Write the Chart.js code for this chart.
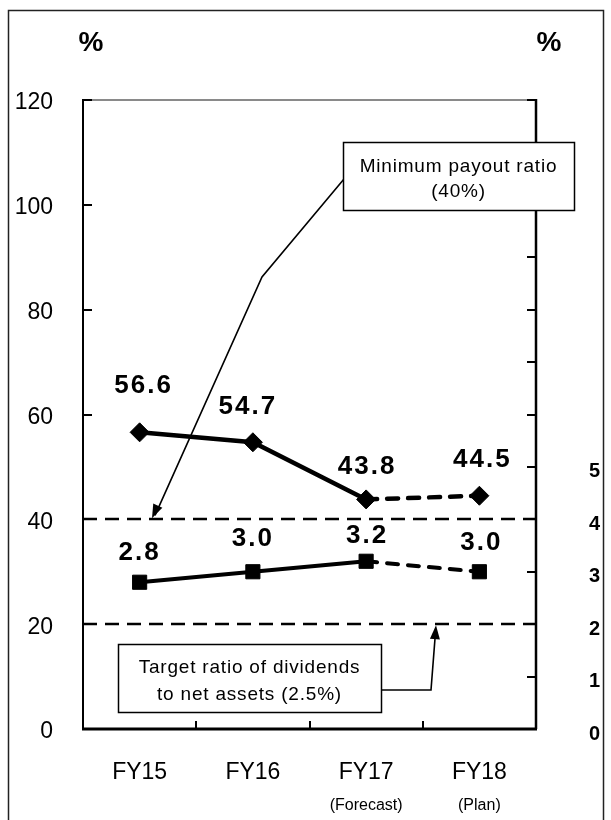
<!DOCTYPE html>
<html>
<head>
<meta charset="utf-8">
<script src="https://cdn.jsdelivr.net/npm/chart.js@4"></script>
<style>
  html, body { margin: 0; padding: 0; background: #fff; }
  #wrap { position: relative; width: 611px; height: 820px; }
  canvas { display: block; }
</style>
</head>
<body>
<div id="wrap"><canvas id="c" width="611" height="820"></canvas></div>
<script>
// Fiscal years and the note printed under each one
const fiscalYears = ['FY15', 'FY16', 'FY17', 'FY18'];
const yearNotes = ['', '', '(Forecast)', '(Plan)'];

// Payout ratio (%), left axis
const payoutRatio = [56.6, 54.7, 43.8, 44.5];
// Ratio of dividends to net assets (%), right axis
const dividendRatio = [2.8, 3.0, 3.2, 3.0];

// Left axis 0-120 by 20, right axis 0-12 by 1 (only 0-5 labelled)
const leftAxisRange = [0, 120];
const leftAxisStep = 20;
const rightAxisRange = [0, 12];
const rightAxisStep = 1;
const rightLabelTop = 5;

// Dashed guide lines on the left axis
const guideLevels = [40, 20];

// Index of the first estimated year: segments starting here are dashed
const firstEstimate = 2;

// Value-label placement (pixels above / beside each point)
const payoutLift = [46, 35, 33, 36];
const payoutNudge = [3, -6, 0, 2];
const dividendLift = [29, 33, 25, 29];
const dividendNudge = [-1, -1, 0, 1];

const FONT = '"Liberation Sans", Arial, sans-serif';

const frameAndAxes = {
  id: 'frameAndAxes',
  beforeDraw(chart) {
    const ctx = chart.ctx;
    ctx.save();
    ctx.fillStyle = '#fff';
    ctx.fillRect(0, 0, chart.width, chart.height);
    ctx.strokeStyle = '#222';
    ctx.lineWidth = 1.5;
    ctx.strokeRect(8.5, 10.5, 595, 840);
    ctx.fillStyle = '#000';
    ctx.font = 'bold 28px ' + FONT;
    ctx.textAlign = 'center';
    ctx.textBaseline = 'middle';
    ctx.fillText('%', 91, 43);
    ctx.fillText('%', 549, 43);
    ctx.restore();
  },
  beforeDatasetsDraw(chart) {
    const ctx = chart.ctx;
    const a = chart.chartArea;
    const y = chart.scales.y, y2 = chart.scales.y2, x = chart.scales.x;
    ctx.save();
    // guide lines
    ctx.strokeStyle = '#000';
    ctx.lineWidth = 2.5;
    ctx.setLineDash([14, 8]);
    guideLevels.forEach(v => {
      const py = Math.round(y.getPixelForValue(v));
      ctx.beginPath();
      ctx.moveTo(a.left, py);
      ctx.lineTo(a.right, py);
      ctx.stroke();
    });
    ctx.setLineDash([]);
    // top edge
    ctx.strokeStyle = '#8a8a8a';
    ctx.lineWidth = 2;
    ctx.beginPath();
    ctx.moveTo(a.left, a.top);
    ctx.lineTo(a.right, a.top);
    ctx.stroke();
    // left axis
    ctx.strokeStyle = '#000';
    ctx.lineWidth = 2;
    ctx.beginPath();
    ctx.moveTo(a.left, a.top - 1);
    ctx.lineTo(a.left, a.bottom);
    ctx.stroke();
    for (let v = leftAxisRange[0]; v <= leftAxisRange[1]; v += leftAxisStep) {
      const py = Math.round(y.getPixelForValue(v));
      ctx.beginPath();
      ctx.moveTo(a.left, py);
      ctx.lineTo(a.left + 9, py);
      ctx.stroke();
    }
    // right axis
    ctx.lineWidth = 2.5;
    ctx.beginPath();
    ctx.moveTo(a.right, a.top - 1);
    ctx.lineTo(a.right, a.bottom);
    ctx.stroke();
    ctx.lineWidth = 2;
    for (let v = rightAxisRange[0]; v <= rightAxisRange[1]; v += rightAxisStep) {
      const py = Math.round(y2.getPixelForValue(v));
      ctx.beginPath();
      ctx.moveTo(a.right, py);
      ctx.lineTo(a.right - 9, py);
      ctx.stroke();
    }
    // bottom axis with ticks between categories
    ctx.lineWidth = 3;
    ctx.beginPath();
    ctx.moveTo(a.left - 1, a.bottom);
    ctx.lineTo(a.right + 1, a.bottom);
    ctx.stroke();
    ctx.lineWidth = 2;
    for (let i = 1; i < fiscalYears.length; i++) {
      const px = Math.round((x.getPixelForValue(i - 1) + x.getPixelForValue(i)) / 2);
      ctx.beginPath();
      ctx.moveTo(px, a.bottom);
      ctx.lineTo(px, a.bottom - 8);
      ctx.stroke();
    }
    ctx.restore();
  },
  afterDatasetsDraw(chart) {
    const ctx = chart.ctx;
    ctx.save();
    ctx.fillStyle = '#000';
    ctx.font = 'bold 26px ' + FONT;
    ctx.textAlign = 'center';
    ctx.textBaseline = 'middle';
    try { ctx.letterSpacing = '2px'; } catch (e) {}
    const sets = [
      { idx: 0, values: payoutRatio, lift: payoutLift, nudge: payoutNudge },
      { idx: 1, values: dividendRatio, lift: dividendLift, nudge: dividendNudge }
    ];
    sets.forEach(s => {
      const meta = chart.getDatasetMeta(s.idx);
      meta.data.forEach((pt, i) => {
        ctx.fillText(s.values[i].toFixed(1), pt.x + s.nudge[i] + 1, pt.y - s.lift[i]);
      });
    });
    ctx.restore();
  },
  afterDraw(chart) {
    const ctx = chart.ctx;
    const y = chart.scales.y, x = chart.scales.x;
    ctx.save();
    // notes under the year labels
    ctx.fillStyle = '#000';
    ctx.font = '16px ' + FONT;
    ctx.textAlign = 'center';
    ctx.textBaseline = 'middle';
    yearNotes.forEach((t, i) => {
      if (t) ctx.fillText(t, x.getPixelForValue(i), 806);
    });

    const drawArrowHead = (tx, ty, fx, fy) => {
      const ang = Math.atan2(ty - fy, tx - fx);
      const len = 14, half = 5;
      ctx.beginPath();
      ctx.moveTo(tx, ty);
      ctx.lineTo(tx - len * Math.cos(ang) + half * Math.sin(ang), ty - len * Math.sin(ang) - half * Math.cos(ang));
      ctx.lineTo(tx - len * Math.cos(ang) - half * Math.sin(ang), ty - len * Math.sin(ang) + half * Math.cos(ang));
      ctx.closePath();
      ctx.fill();
    };
    const drawBox = (l, t, w, h, lines, lineYs) => {
      ctx.fillStyle = '#fff';
      ctx.fillRect(l, t, w, h);
      ctx.strokeStyle = '#000';
      ctx.lineWidth = 1.5;
      ctx.strokeRect(l + 0.5, t + 0.5, w, h);
      ctx.fillStyle = '#000';
      ctx.font = '19px ' + FONT;
      try { ctx.letterSpacing = '0.8px'; } catch (e) {}
      ctx.textAlign = 'center';
      ctx.textBaseline = 'middle';
      lines.forEach((s, k) => ctx.fillText(s, l + w / 2, lineYs[k]));
      try { ctx.letterSpacing = '0px'; } catch (e) {}
    };

    // payout-ratio callout
    const floorY = y.getPixelForValue(guideLevels[0]);
    ctx.strokeStyle = '#000';
    ctx.fillStyle = '#000';
    ctx.lineWidth = 1.6;
    ctx.beginPath();
    ctx.moveTo(344, 179);
    ctx.lineTo(262, 277);
    ctx.lineTo(155, floorY - 4);
    ctx.stroke();
    drawArrowHead(152, floorY - 1, 262, 277);
    drawBox(343, 142, 231, 68, ['Minimum payout ratio', '(40%)'], [167, 192]);

    // dividend-ratio callout
    const lowY = y.getPixelForValue(guideLevels[1]);
    ctx.strokeStyle = '#000';
    ctx.fillStyle = '#000';
    ctx.lineWidth = 1.6;
    ctx.beginPath();
    ctx.moveTo(381, 690);
    ctx.lineTo(431, 690);
    ctx.lineTo(435.5, lowY + 8);
    ctx.stroke();
    drawArrowHead(436, lowY + 1, 431, 690);
    drawBox(118, 644, 263, 68, ['Target ratio of dividends', 'to net assets (2.5%)'], [668, 695]);
    ctx.restore();
  }
};

const dashedAfter = (ctx) => ctx.p0DataIndex >= firstEstimate ? [11, 10] : undefined;

new Chart(document.getElementById('c'), {
  type: 'line',
  data: {
    labels: fiscalYears,
    datasets: [
      {
        label: 'Payout ratio',
        data: payoutRatio,
        yAxisID: 'y',
        borderColor: '#000',
        backgroundColor: '#000',
        borderWidth: 4.5,
        borderCapStyle: 'round',
        pointStyle: 'rectRot',
        pointRadius: 9.5,
        pointBorderWidth: 1,
        pointBackgroundColor: '#000',
        pointBorderColor: '#000',
        tension: 0,
        segment: { borderDash: dashedAfter }
      },
      {
        label: 'Ratio of dividends to net assets',
        data: dividendRatio,
        yAxisID: 'y2',
        borderColor: '#000',
        backgroundColor: '#000',
        borderWidth: 4,
        borderCapStyle: 'round',
        pointStyle: 'rect',
        pointRadius: 10,
        pointBorderWidth: 1,
        pointBackgroundColor: '#000',
        pointBorderColor: '#000',
        tension: 0,
        segment: { borderDash: dashedAfter }
      }
    ]
  },
  options: {
    responsive: false,
    animation: false,
    devicePixelRatio: 1,
    layout: { padding: { top: 100, left: 0, right: 0, bottom: 0 } },
    plugins: { legend: { display: false }, tooltip: { enabled: false } },
    scales: {
      x: {
        type: 'category',
        offset: true,
        grid: { display: false, drawTicks: false },
        border: { display: false },
        ticks: { color: '#000', font: { family: FONT, size: 23 }, padding: 30, maxRotation: 0 },
        afterFit(s) { s.height = 91; }
      },
      y: {
        position: 'left',
        min: leftAxisRange[0],
        max: leftAxisRange[1],
        grid: { display: false, drawTicks: false },
        border: { display: false },
        ticks: { stepSize: leftAxisStep, color: '#000', font: { family: FONT, size: 23 }, padding: 30, labelOffset: 3 },
        afterFit(s) { s.width = 83; }
      },
      y2: {
        position: 'right',
        min: rightAxisRange[0],
        max: rightAxisRange[1],
        grid: { display: false, drawTicks: false },
        border: { display: false },
        ticks: {
          stepSize: rightAxisStep,
          color: '#000',
          font: { family: FONT, size: 20, weight: 'bold' },
          padding: 53,
          labelOffset: 5,
          callback: (v) => (v <= rightLabelTop ? String(v) : '')
        },
        afterFit(s) { s.width = 75; }
      }
    }
  },
  plugins: [frameAndAxes]
});
</script>
</body>
</html>
